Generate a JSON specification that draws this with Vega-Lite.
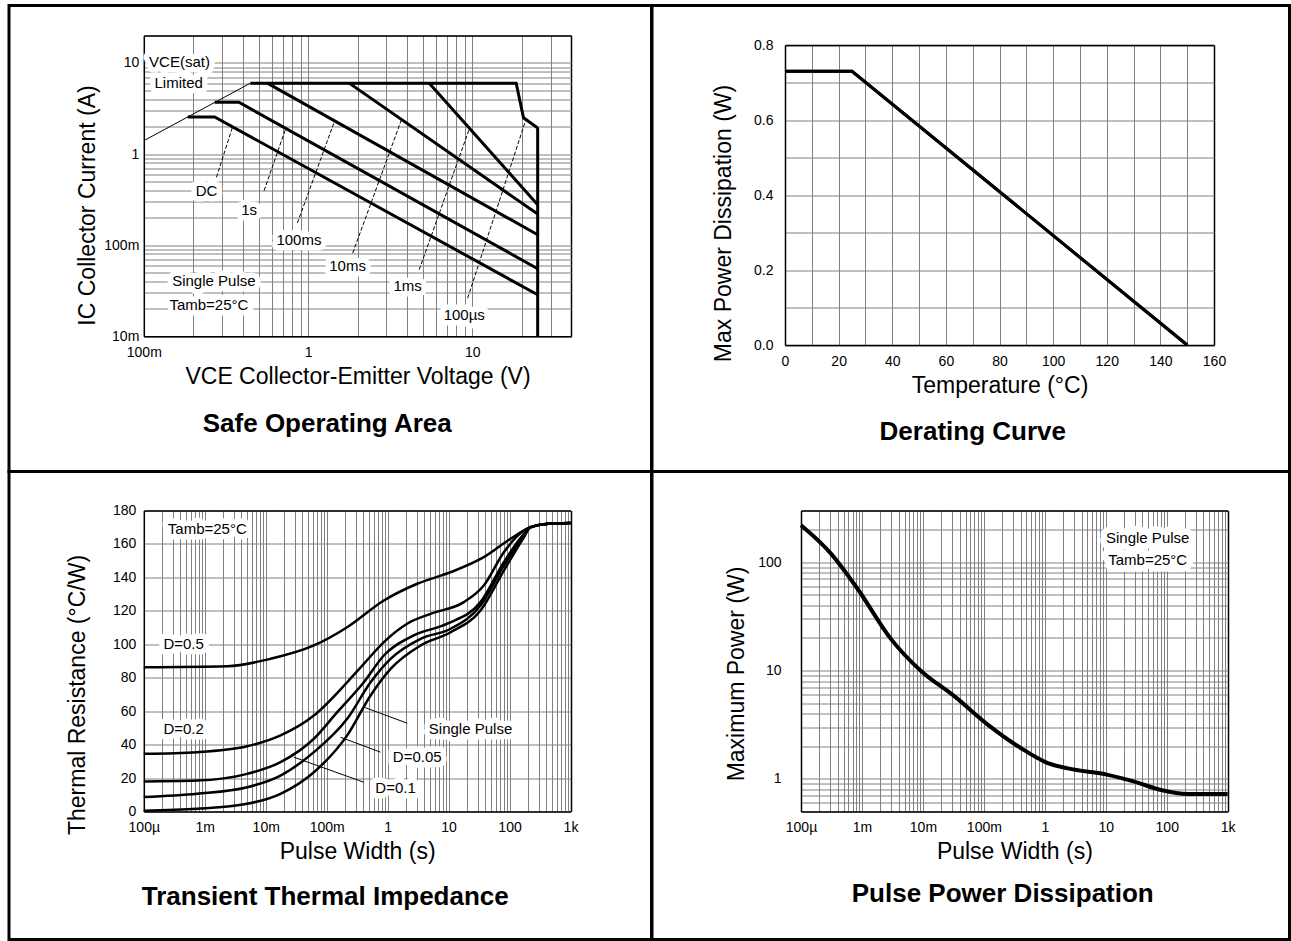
{
  "$schema": "https://vega.github.io/schema/vega-lite/v6.json",
  "background": "white",
  "padding": {"left": 7, "top": 3.5, "right": 0, "bottom": 0},
  "spacing": 0,
  "bounds": "flush",
  "columns": 2,
  "datasets": {
    "soa_curves": [
      {"curve": "env", "v": 0.446, "i": 6, "seq": 0},
      {"curve": "env", "v": 18.5, "i": 6, "seq": 1},
      {"curve": "env", "v": 20.5, "i": 2.5, "seq": 2},
      {"curve": "env", "v": 24.8, "i": 1.95, "seq": 3},
      {"curve": "env", "v": 25, "i": 1.9, "seq": 4},
      {"curve": "env", "v": 25, "i": 0.01, "seq": 5},
      {"curve": "DC", "v": 0.185, "i": 2.55, "seq": 0},
      {"curve": "DC", "v": 0.27, "i": 2.55, "seq": 1},
      {"curve": "DC", "v": 25, "i": 0.0285, "seq": 2},
      {"curve": "1s", "v": 0.27, "i": 3.7, "seq": 0},
      {"curve": "1s", "v": 0.379, "i": 3.7, "seq": 1},
      {"curve": "1s", "v": 25, "i": 0.055, "seq": 2},
      {"curve": "100ms", "v": 0.565, "i": 6, "seq": 0},
      {"curve": "100ms", "v": 25, "i": 0.13, "seq": 1},
      {"curve": "10ms", "v": 1.78, "i": 6, "seq": 0},
      {"curve": "10ms", "v": 25, "i": 0.219, "seq": 1},
      {"curve": "1ms", "v": 5.47, "i": 6, "seq": 0},
      {"curve": "1ms", "v": 25, "i": 0.278, "seq": 1}
    ],
    "soa_sat": [
      {"v": 0.1, "i": 1.4},
      {"v": 0.446, "i": 6}
    ],
    "soa_leaders": [
      {"v": 0.277, "i": 0.555, "v2": 0.346, "i2": 1.95},
      {"v": 0.54, "i": 0.396, "v2": 0.731, "i2": 1.9},
      {"v": 0.861, "i": 0.175, "v2": 1.45, "i2": 2.3},
      {"v": 1.87, "i": 0.0817, "v2": 3.71, "i2": 2.4},
      {"v": 4.75, "i": 0.0537, "v2": 9.6, "i2": 1.9},
      {"v": 9.37, "i": 0.0262, "v2": 21.2, "i2": 2.39}
    ],
    "soa_labels": [
      {"label": "VCE(sat)", "v": 0.165, "i": 10.3},
      {"label": "Limited", "v": 0.163, "i": 6.0},
      {"label": "DC", "v": 0.241, "i": 0.396},
      {"label": "1s", "v": 0.438, "i": 0.245},
      {"label": "100ms", "v": 0.88, "i": 0.115},
      {"label": "10ms", "v": 1.74, "i": 0.0583},
      {"label": "1ms", "v": 4.04, "i": 0.036},
      {"label": "100µs", "v": 8.93, "i": 0.0172},
      {"label": "Single Pulse", "v": 0.267, "i": 0.0406},
      {"label": "Tamb=25°C", "v": 0.249, "i": 0.0221}
    ],
    "derating": [
      {"t": 0, "p": 0.73},
      {"t": 25, "p": 0.73},
      {"t": 150, "p": 0}
    ],
    "tti_curves": [
      {"curve": "D=0.5", "t": 0.0001, "z": 86.3},
      {"curve": "D=0.5", "t": 0.00233, "z": 86.9},
      {"curve": "D=0.5", "t": 0.012, "z": 91.3},
      {"curve": "D=0.5", "t": 0.0617, "z": 99.3},
      {"curve": "D=0.5", "t": 0.217, "z": 110.2},
      {"curve": "D=0.5", "t": 0.867, "z": 126.2},
      {"curve": "D=0.5", "t": 3.06, "z": 136.2},
      {"curve": "D=0.5", "t": 10.8, "z": 143.1},
      {"curve": "D=0.5", "t": 37.8, "z": 152.1},
      {"curve": "D=0.5", "t": 104, "z": 163.1},
      {"curve": "D=0.5", "t": 221, "z": 170},
      {"curve": "D=0.5", "t": 400, "z": 172},
      {"curve": "D=0.5", "t": 1000, "z": 172.5},
      {"curve": "D=0.2", "t": 0.0001, "z": 34.5},
      {"curve": "D=0.2", "t": 0.00075, "z": 35.5},
      {"curve": "D=0.2", "t": 0.00497, "z": 39},
      {"curve": "D=0.2", "t": 0.0175, "z": 45.5},
      {"curve": "D=0.2", "t": 0.0617, "z": 57.4},
      {"curve": "D=0.2", "t": 0.217, "z": 77.3},
      {"curve": "D=0.2", "t": 0.407, "z": 88.3},
      {"curve": "D=0.2", "t": 0.867, "z": 101.3},
      {"curve": "D=0.2", "t": 2.09, "z": 112.3},
      {"curve": "D=0.2", "t": 5.06, "z": 118.2},
      {"curve": "D=0.2", "t": 17.8, "z": 125.2},
      {"curve": "D=0.2", "t": 37.8, "z": 135.2},
      {"curve": "D=0.2", "t": 80.7, "z": 155.1},
      {"curve": "D=0.2", "t": 172, "z": 168},
      {"curve": "D=0.2", "t": 221, "z": 170},
      {"curve": "D=0.2", "t": 400, "z": 172},
      {"curve": "D=0.2", "t": 1000, "z": 172.5},
      {"curve": "D=0.1", "t": 0.0001, "z": 18},
      {"curve": "D=0.1", "t": 0.00075, "z": 18.5},
      {"curve": "D=0.1", "t": 0.00497, "z": 22.5},
      {"curve": "D=0.1", "t": 0.0175, "z": 29.5},
      {"curve": "D=0.1", "t": 0.0617, "z": 43.5},
      {"curve": "D=0.1", "t": 0.149, "z": 59.4},
      {"curve": "D=0.1", "t": 0.407, "z": 77.3},
      {"curve": "D=0.1", "t": 0.867, "z": 93.3},
      {"curve": "D=0.1", "t": 2.69, "z": 105.3},
      {"curve": "D=0.1", "t": 9.51, "z": 112.3},
      {"curve": "D=0.1", "t": 33.4, "z": 125.2},
      {"curve": "D=0.1", "t": 80.7, "z": 149.1},
      {"curve": "D=0.1", "t": 172, "z": 166},
      {"curve": "D=0.1", "t": 221, "z": 170},
      {"curve": "D=0.1", "t": 400, "z": 172},
      {"curve": "D=0.1", "t": 1000, "z": 172.5},
      {"curve": "D=0.05", "t": 0.0001, "z": 8.6},
      {"curve": "D=0.05", "t": 0.00075, "z": 10.6},
      {"curve": "D=0.05", "t": 0.00497, "z": 14.5},
      {"curve": "D=0.05", "t": 0.0175, "z": 21.5},
      {"curve": "D=0.05", "t": 0.0617, "z": 35.5},
      {"curve": "D=0.05", "t": 0.217, "z": 55.4},
      {"curve": "D=0.05", "t": 0.525, "z": 77.3},
      {"curve": "D=0.05", "t": 1.117, "z": 91.3},
      {"curve": "D=0.05", "t": 3.47, "z": 103.3},
      {"curve": "D=0.05", "t": 10.8, "z": 109.3},
      {"curve": "D=0.05", "t": 33.4, "z": 123.2},
      {"curve": "D=0.05", "t": 80.7, "z": 147.1},
      {"curve": "D=0.05", "t": 172, "z": 165},
      {"curve": "D=0.05", "t": 221, "z": 170},
      {"curve": "D=0.05", "t": 400, "z": 172},
      {"curve": "D=0.05", "t": 1000, "z": 172.5},
      {"curve": "Single", "t": 0.0001, "z": 0.5},
      {"curve": "Single", "t": 0.00075, "z": 1.6},
      {"curve": "Single", "t": 0.00497, "z": 4.6},
      {"curve": "Single", "t": 0.0175, "z": 10.6},
      {"curve": "Single", "t": 0.0617, "z": 23.5},
      {"curve": "Single", "t": 0.217, "z": 45.5},
      {"curve": "Single", "t": 0.525, "z": 69.4},
      {"curve": "Single", "t": 1.117, "z": 85.3},
      {"curve": "Single", "t": 3.47, "z": 99.3},
      {"curve": "Single", "t": 10.8, "z": 107.2},
      {"curve": "Single", "t": 33.4, "z": 120.2},
      {"curve": "Single", "t": 80.7, "z": 144.1},
      {"curve": "Single", "t": 172, "z": 164},
      {"curve": "Single", "t": 221, "z": 170},
      {"curve": "Single", "t": 400, "z": 172},
      {"curve": "Single", "t": 1000, "z": 172.5}
    ],
    "tti_leaders": [
      {"t": 2.1, "z": 52.8, "t2": 0.407, "z2": 62.4},
      {"t": 0.764, "z": 35.5, "t2": 0.169, "z2": 44.4},
      {"t": 0.407, "z": 17.5, "t2": 0.0289, "z2": 32.5}
    ],
    "tti_labels": [
      {"label": "Tamb=25°C", "t": 0.0011, "z": 169},
      {"label": "D=0.5", "t": 0.00045, "z": 100.3},
      {"label": "D=0.2", "t": 0.00045, "z": 49.5},
      {"label": "Single Pulse", "t": 22.9, "z": 49.5},
      {"label": "D=0.05", "t": 3.06, "z": 32.5},
      {"label": "D=0.1", "t": 1.35, "z": 13.9}
    ],
    "ppd_curve": [
      {"t": 0.0001, "p": 219},
      {"t": 0.00031, "p": 120},
      {"t": 0.000851, "p": 56.6},
      {"t": 0.003, "p": 19.5},
      {"t": 0.00931, "p": 9.9},
      {"t": 0.0327, "p": 5.8},
      {"t": 0.1156, "p": 3.17},
      {"t": 0.407, "p": 1.92},
      {"t": 1.117, "p": 1.4},
      {"t": 2.38, "p": 1.25},
      {"t": 10.8, "p": 1.09},
      {"t": 29.4, "p": 0.944},
      {"t": 80.5, "p": 0.79},
      {"t": 221, "p": 0.726},
      {"t": 1000, "p": 0.726}
    ],
    "ppd_labels": [
      {"label": "Single Pulse", "t": 48.7, "p": 167},
      {"label": "Tamb=25°C", "t": 48.7, "p": 105}
    ]
  },
  "concat": [
    {
      "width": 642.5,
      "height": 466,
      "title": {"text": "Safe Operating Area", "orient": "bottom", "frame": "group", "offset": -61, "dx": -3},
      "resolve": {"axis": {"x": "independent", "y": "independent"}},
      "layer": [
        {
          "data": {"name": "soa_labels"},
          "mark": {"type": "text", "fontSize": 15, "fill": "white", "stroke": "white", "strokeWidth": 11, "strokeJoin": "round"},
          "encoding": {
            "x": {"field": "v", "type": "quantitative", "scale": {"type": "log", "domain": [0.1, 40], "range": [134.8, 562.2], "nice": false},
              "axis": {"orient": "bottom", "offset": -135.3, "values": [0.1, 1, 10], "grid": false, "domain": true, "labelExpr": "datum.value < 0.5 ? '100m' : datum.value < 5 ? '1' : '10'", "title": "VCE Collector-Emitter Voltage (V)"}},
            "y": {"field": "i", "type": "quantitative", "scale": {"type": "log", "domain": [0.01, 20], "range": [330.7, 30], "nice": false}, "axis": null},
            "text": {"field": "label"}
          }
        },
        {
          "data": {"name": "soa_curves"},
          "mark": {"type": "line", "color": "black", "strokeWidth": 3},
          "encoding": {
            "x": {"field": "v", "type": "quantitative", "scale": {"type": "log", "domain": [0.1, 40], "range": [134.8, 562.2], "nice": false},
              "axis": {"orient": "top", "offset": -30, "values": [0.1,0.2,0.3,0.4,0.5,0.6,0.7,0.8,0.9,1,2,3,4,5,6,7,8,9,10,20,30,40], "grid": true, "labels": false, "domain": true, "title": null,
                "gridColor": {"condition": {"test": "datum.value >= 40", "value": "black"}, "value": "#808080"},
                "gridWidth": {"condition": {"test": "datum.value >= 40", "value": 1.5}, "value": 1}}},
            "y": {"field": "i", "type": "quantitative", "scale": {"type": "log", "domain": [0.01, 20], "range": [330.7, 30], "nice": false},
              "axis": {"orient": "left", "offset": -134.8, "values": [0.01,0.02,0.03,0.04,0.05,0.06,0.07,0.08,0.09,0.1,0.2,0.3,0.4,0.5,0.6,0.7,0.8,0.9,1,2,3,4,5,6,7,8,9,10,20], "grid": true, "domain": true, "labelPadding": 5,
                "labelExpr": "datum.value == 0.01 ? '10m' : datum.value == 0.1 ? '100m' : datum.value == 1 ? '1' : datum.value == 10 ? '10' : ''",
                "title": "IC Collector Current (A)", "titleX": -56, "titleY": 199.5, "titleBaseline": "middle"}},
            "detail": {"field": "curve"},
            "order": {"field": "seq"}
          }
        },
        {
          "data": {"name": "soa_sat"},
          "mark": {"type": "line", "color": "black", "strokeWidth": 1},
          "encoding": {
            "x": {"field": "v", "type": "quantitative", "scale": {"type": "log", "domain": [0.1, 40], "range": [134.8, 562.2], "nice": false}, "axis": null},
            "y": {"field": "i", "type": "quantitative", "scale": {"type": "log", "domain": [0.01, 20], "range": [330.7, 30], "nice": false}, "axis": null}
          }
        },
        {
          "data": {"name": "soa_leaders"},
          "mark": {"type": "rule", "color": "black", "strokeWidth": 1, "strokeDash": [4, 2]},
          "encoding": {
            "x": {"field": "v", "type": "quantitative", "scale": {"type": "log", "domain": [0.1, 40], "range": [134.8, 562.2], "nice": false}, "axis": null},
            "y": {"field": "i", "type": "quantitative", "scale": {"type": "log", "domain": [0.01, 20], "range": [330.7, 30], "nice": false}, "axis": null},
            "x2": {"field": "v2"},
            "y2": {"field": "i2"}
          }
        },
        {
          "data": {"name": "soa_labels"},
          "mark": {"type": "text", "fontSize": 15, "color": "black"},
          "encoding": {
            "x": {"field": "v", "type": "quantitative", "scale": {"type": "log", "domain": [0.1, 40], "range": [134.8, 562.2], "nice": false}, "axis": null},
            "y": {"field": "i", "type": "quantitative", "scale": {"type": "log", "domain": [0.01, 20], "range": [330.7, 30], "nice": false}, "axis": null},
            "text": {"field": "label"}
          }
        }
      ]
    },
    {
      "width": 637.5,
      "height": 466,
      "title": {"text": "Derating Curve", "orient": "bottom", "frame": "group", "offset": -53, "dx": 2},
      "resolve": {"axis": {"x": "independent", "y": "independent"}},
      "layer": [
        {
          "data": {"name": "derating"},
          "mark": {"type": "line", "color": "black", "strokeWidth": 3},
          "encoding": {
            "x": {"field": "t", "type": "quantitative", "scale": {"domain": [0, 160], "range": [133, 562], "nice": false, "zero": false},
              "axis": {"orient": "bottom", "offset": -126.5, "values": [0,20,40,60,80,100,120,140,160], "grid": false, "domain": true, "title": "Temperature (°C)"}},
            "y": {"field": "p", "type": "quantitative", "scale": {"domain": [0, 0.8], "range": [339.5, 39.5], "nice": false, "zero": false}, "axis": null}
          }
        },
        {
          "data": {"name": "derating"},
          "mark": {"type": "line", "color": "black", "strokeWidth": 3},
          "encoding": {
            "x": {"field": "t", "type": "quantitative", "scale": {"domain": [0, 160], "range": [133, 562], "nice": false, "zero": false},
              "axis": {"orient": "top", "offset": -39.5, "values": [0,10,20,30,40,50,60,70,80,90,100,110,120,130,140,150,160], "grid": true, "labels": false, "domain": true, "title": null,
                "gridColor": {"condition": {"test": "datum.value >= 160", "value": "black"}, "value": "#808080"},
                "gridWidth": {"condition": {"test": "datum.value >= 160", "value": 1.5}, "value": 1}}},
            "y": {"field": "p", "type": "quantitative", "scale": {"domain": [0, 0.8], "range": [339.5, 39.5], "nice": false, "zero": false},
              "axis": {"orient": "left", "offset": -133, "values": [0,0.1,0.2,0.3,0.4,0.5,0.6,0.7,0.8], "grid": true, "domain": true, "labelPadding": 12,
                "labelExpr": "round(datum.value * 10) % 2 == 0 ? format(datum.value, '.1f') : ''",
                "title": "Max Power Dissipation (W)", "titleX": -62, "titleY": 217.5, "titleBaseline": "middle"}}
          }
        }
      ]
    },
    {
      "width": 642.5,
      "height": 468,
      "title": {"text": "Transient Thermal Impedance", "orient": "bottom", "frame": "group", "offset": -56, "dx": -5},
      "resolve": {"axis": {"x": "independent", "y": "independent"}},
      "layer": [
        {
          "data": {"name": "tti_labels"},
          "mark": {"type": "text", "fontSize": 15, "fill": "white", "stroke": "white", "strokeWidth": 11, "strokeJoin": "round"},
          "encoding": {
            "x": {"field": "t", "type": "quantitative", "scale": {"type": "log", "domain": [0.0001, 1000], "range": [134.8, 561.5], "nice": false},
              "axis": {"orient": "bottom", "offset": -128, "values": [0.0001, 0.001, 0.01, 0.1, 1, 10, 100, 1000], "grid": false, "domain": true,
                "labelExpr": "datum.value < 0.0005 ? '100µ' : datum.value < 0.005 ? '1m' : datum.value < 0.05 ? '10m' : datum.value < 0.5 ? '100m' : datum.value < 5 ? '1' : datum.value < 50 ? '10' : datum.value < 500 ? '100' : '1k'",
                "title": "Pulse Width (s)"}},
            "y": {"field": "z", "type": "quantitative", "scale": {"domain": [0, 180], "range": [340, 39], "nice": false, "zero": false}, "axis": null},
            "text": {"field": "label"}
          }
        },
        {
          "data": {"name": "tti_curves"},
          "mark": {"type": "line", "color": "black", "strokeWidth": 2.5, "interpolate": "monotone"},
          "encoding": {
            "x": {"field": "t", "type": "quantitative", "scale": {"type": "log", "domain": [0.0001, 1000], "range": [134.8, 561.5], "nice": false},
              "axis": {"orient": "top", "offset": -39, "values": [0.0001,0.0002,0.0003,0.0004,0.0005,0.0006,0.0007,0.0008,0.0009,0.001,0.002,0.003,0.004,0.005,0.006,0.007,0.008,0.009,0.01,0.02,0.03,0.04,0.05,0.06,0.07,0.08,0.09,0.1,0.2,0.3,0.4,0.5,0.6,0.7,0.8,0.9,1,2,3,4,5,6,7,8,9,10,20,30,40,50,60,70,80,90,100,200,300,400,500,600,700,800,900,1000], "grid": true, "labels": false, "domain": true, "title": null,
                "gridColor": {"condition": {"test": "datum.value >= 1000", "value": "black"}, "value": "#808080"},
                "gridWidth": {"condition": {"test": "datum.value >= 1000", "value": 1.5}, "value": 1}}},
            "y": {"field": "z", "type": "quantitative", "scale": {"domain": [0, 180], "range": [340, 39], "nice": false, "zero": false},
              "axis": {"orient": "left", "offset": -134.8, "values": [0,20,40,60,80,100,120,140,160,180], "grid": true, "domain": true, "labelPadding": 8,
                "title": "Thermal Resistance (°C/W)", "titleX": -66, "titleY": 223, "titleBaseline": "middle"}},
            "detail": {"field": "curve"}
          }
        },
        {
          "data": {"name": "tti_leaders"},
          "mark": {"type": "rule", "color": "black", "strokeWidth": 1},
          "encoding": {
            "x": {"field": "t", "type": "quantitative", "scale": {"type": "log", "domain": [0.0001, 1000], "range": [134.8, 561.5], "nice": false}, "axis": null},
            "y": {"field": "z", "type": "quantitative", "scale": {"domain": [0, 180], "range": [340, 39], "nice": false, "zero": false}, "axis": null},
            "x2": {"field": "t2"},
            "y2": {"field": "z2"}
          }
        },
        {
          "data": {"name": "tti_labels"},
          "mark": {"type": "text", "fontSize": 15, "color": "black"},
          "encoding": {
            "x": {"field": "t", "type": "quantitative", "scale": {"type": "log", "domain": [0.0001, 1000], "range": [134.8, 561.5], "nice": false}, "axis": null},
            "y": {"field": "z", "type": "quantitative", "scale": {"domain": [0, 180], "range": [340, 39], "nice": false, "zero": false}, "axis": null},
            "text": {"field": "label"}
          }
        }
      ]
    },
    {
      "width": 637.5,
      "height": 468,
      "title": {"text": "Pulse Power Dissipation", "orient": "bottom", "frame": "group", "offset": -59, "dx": 32},
      "resolve": {"axis": {"x": "independent", "y": "independent"}},
      "layer": [
        {
          "data": {"name": "ppd_labels"},
          "mark": {"type": "text", "fontSize": 15, "fill": "white", "stroke": "white", "strokeWidth": 13, "strokeJoin": "round"},
          "encoding": {
            "x": {"field": "t", "type": "quantitative", "scale": {"type": "log", "domain": [0.0001, 1000], "range": [149, 575.7], "nice": false},
              "axis": {"orient": "bottom", "offset": -128, "values": [0.0001, 0.001, 0.01, 0.1, 1, 10, 100, 1000], "grid": false, "domain": true,
                "labelExpr": "datum.value < 0.0005 ? '100µ' : datum.value < 0.005 ? '1m' : datum.value < 0.05 ? '10m' : datum.value < 0.5 ? '100m' : datum.value < 5 ? '1' : datum.value < 50 ? '10' : datum.value < 500 ? '100' : '1k'",
                "title": "Pulse Width (s)"}},
            "y": {"field": "p", "type": "quantitative", "scale": {"type": "log", "domain": [0.5, 300], "range": [340, 39], "nice": false}, "axis": null},
            "text": {"field": "label"}
          }
        },
        {
          "data": {"name": "ppd_curve"},
          "mark": {"type": "line", "color": "black", "strokeWidth": 4, "interpolate": "monotone"},
          "encoding": {
            "x": {"field": "t", "type": "quantitative", "scale": {"type": "log", "domain": [0.0001, 1000], "range": [149, 575.7], "nice": false},
              "axis": {"orient": "top", "offset": -39, "values": [0.0001,0.0002,0.0003,0.0004,0.0005,0.0006,0.0007,0.0008,0.0009,0.001,0.002,0.003,0.004,0.005,0.006,0.007,0.008,0.009,0.01,0.02,0.03,0.04,0.05,0.06,0.07,0.08,0.09,0.1,0.2,0.3,0.4,0.5,0.6,0.7,0.8,0.9,1,2,3,4,5,6,7,8,9,10,20,30,40,50,60,70,80,90,100,200,300,400,500,600,700,800,900,1000], "grid": true, "labels": false, "domain": true, "title": null,
                "gridColor": {"condition": {"test": "datum.value >= 1000", "value": "black"}, "value": "#808080"},
                "gridWidth": {"condition": {"test": "datum.value >= 1000", "value": 1.5}, "value": 1}}},
            "y": {"field": "p", "type": "quantitative", "scale": {"type": "log", "domain": [0.5, 300], "range": [340, 39], "nice": false},
              "axis": {"orient": "left", "offset": -149, "values": [0.5,0.6,0.7,0.8,0.9,1,2,3,4,5,6,7,8,9,10,20,30,40,50,60,70,80,90,100,200,300], "grid": true, "domain": true, "labelPadding": 20,
                "labelExpr": "datum.value == 1 ? '1' : datum.value == 10 ? '10' : datum.value == 100 ? '100' : ''",
                "title": "Maximum Power (W)", "titleX": -65, "titleY": 202, "titleBaseline": "middle"}}
          }
        },
        {
          "data": {"name": "ppd_labels"},
          "mark": {"type": "text", "fontSize": 15, "color": "black"},
          "encoding": {
            "x": {"field": "t", "type": "quantitative", "scale": {"type": "log", "domain": [0.0001, 1000], "range": [149, 575.7], "nice": false}, "axis": null},
            "y": {"field": "p", "type": "quantitative", "scale": {"type": "log", "domain": [0.5, 300], "range": [340, 39], "nice": false}, "axis": null},
            "text": {"field": "label"}
          }
        }
      ]
    }
  ],
  "config": {
    "view": {"stroke": "black", "strokeWidth": 3},
    "font": "Liberation Sans",
    "axis": {
      "labelFont": "Liberation Sans", "labelFontSize": 14, "labelColor": "black",
      "titleFont": "Liberation Sans", "titleFontSize": 23, "titleFontWeight": "normal", "titleColor": "black",
      "domainColor": "black", "domainWidth": 1.5,
      "gridColor": "#808080", "gridOpacity": 1, "gridWidth": 1,
      "ticks": false, "labelPadding": 9, "titlePadding": 6, "labelFlush": false, "labelOverlap": false
    },
    "title": {"font": "Liberation Sans Narrow, Liberation Sans", "fontSize": 26, "fontWeight": "bold", "color": "black"},
    "text": {"font": "Liberation Sans", "fontSize": 15}
  }
}
